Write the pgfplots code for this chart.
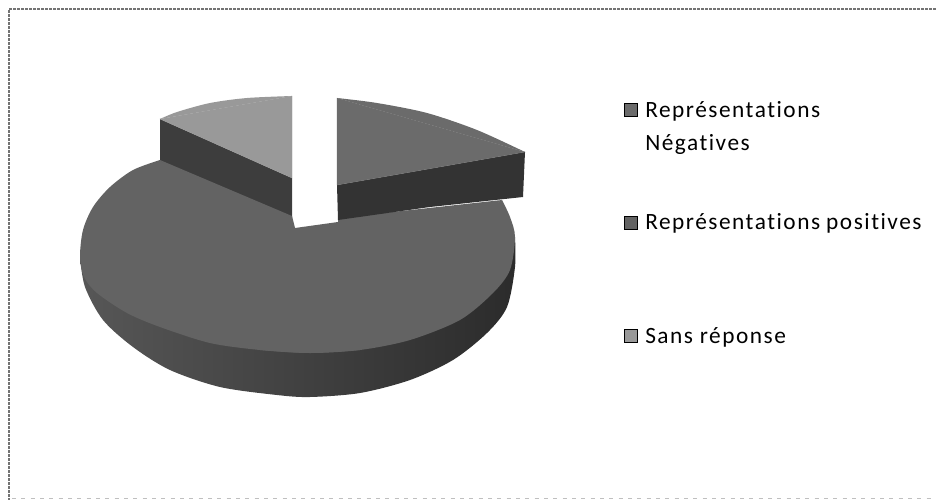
\documentclass[border=0pt]{standalone}
\usepackage{pgfplots}
\pgfplotsset{compat=1.18}
\usepackage{fontspec}
\setmainfont{Carlito}[Ligatures=NoCommon, LetterSpace=6.5]
\definecolor{frameg}{gray}{0.45}
\definecolor{gA}{gray}{0.42}
\definecolor{gB}{gray}{0.39}
\definecolor{gC}{gray}{0.60}
\begin{document}
\begin{tikzpicture}
\begin{axis}[
  scale only axis, width=702pt, height=375pt,
  xmin=0, xmax=936, ymin=0, ymax=500, y dir=reverse,
  hide axis, clip=false,
]
\path[use as bounding box] (axis cs:0,0) rectangle (axis cs:936,500);
% page frame
\addplot[frameg, line width=2pt, dash pattern=on 2pt off 1pt] coordinates {(936,9) (9,9) (9,500)};
\addplot[gray!50, line width=0.7pt, dash pattern=on 3pt off 4pt] coordinates {(12,498) (936,498)};
% slice: Sans reponse, side wall, rim arc, inner wedge
\addplot[draw=none, fill={rgb,1:red,0.24;green,0.24;blue,0.24}] coordinates {(160,119) (292,178) (292,218) (160,162)} --cycle;
\addplot[draw=none, fill=gC, smooth] coordinates {(160,119) (177,112) (210,103) (247,98) (292,96)};
\addplot[draw=gC, line width=0.2pt, fill=gC] coordinates {(160,119) (292,96) (292,178)} --cycle;
% slice: Representations positives, side wall, then two rim arcs and the inner polygon
\addplot[draw=none, left color={rgb,1:red,0.34;green,0.34;blue,0.34}, middle color={rgb,1:red,0.27;green,0.27;blue,0.27}, right color={rgb,1:red,0.17;green,0.17;blue,0.17}, smooth] coordinates {(80,257) (85,287) (103,320) (133,347) (170,370) (220,387) (277,395) (310,397) (360,393) (410,380) (453,360) (487,333) (507,307) (515,267) (515,237)};
\addplot[draw=none, fill=gB, smooth] coordinates {(160,160) (133,170) (110,187) (93,207) (83,230) (80,257) (84,277) (97,293) (127,313) (160,327) (210,343) (260,350) (310,353) (360,350)};
\addplot[draw=none, fill=gB, smooth] coordinates {(260,350) (310,353) (360,350) (410,340) (460,320) (493,293) (510,270) (515,237) (510,217) (502,200)};
\addplot[draw=none, fill=gB] coordinates {(160,160) (292,216) (295,228) (338,222) (338,218) (502,200) (310,340)} --cycle;
% slice: Representations negatives
\addplot[draw=none, fill={rgb,1:red,0.20;green,0.20;blue,0.20}] coordinates {(337,185) (525,152) (523,197) (430,207) (338,220)} --cycle;
\addplot[draw=none, fill=gA, smooth] coordinates {(337,98) (377,103) (427,113) (477,130) (525,152)};
\addplot[draw=gA, line width=0.2pt, fill=gA] coordinates {(337,98) (525,152) (337,185)} --cycle;
% legend keys
\addplot[only marks, mark=square*, mark size=4.8pt, mark options={draw=none, fill=gA}] coordinates {(631,110)};
\addplot[only marks, mark=square*, mark size=4.8pt, mark options={draw=none, fill=gB}] coordinates {(631,223)};
\addplot[only marks, mark=square*, mark size=4.8pt, mark options={draw=none, fill=gC}] coordinates {(631,336)};
% legend labels
\tikzset{lab/.style={anchor=base west, inner sep=0pt, font=\fontsize{17.5}{20}\selectfont}}
\node[lab] at (axis cs:645,117) {Représentations};
\node[lab] at (axis cs:645,150) {Négatives};
\node[lab] at (axis cs:645,229) {Représentations\kern4.5pt positives};
\node[lab] at (axis cs:645,343) {Sans réponse};
\end{axis}
\end{tikzpicture}
\end{document}
